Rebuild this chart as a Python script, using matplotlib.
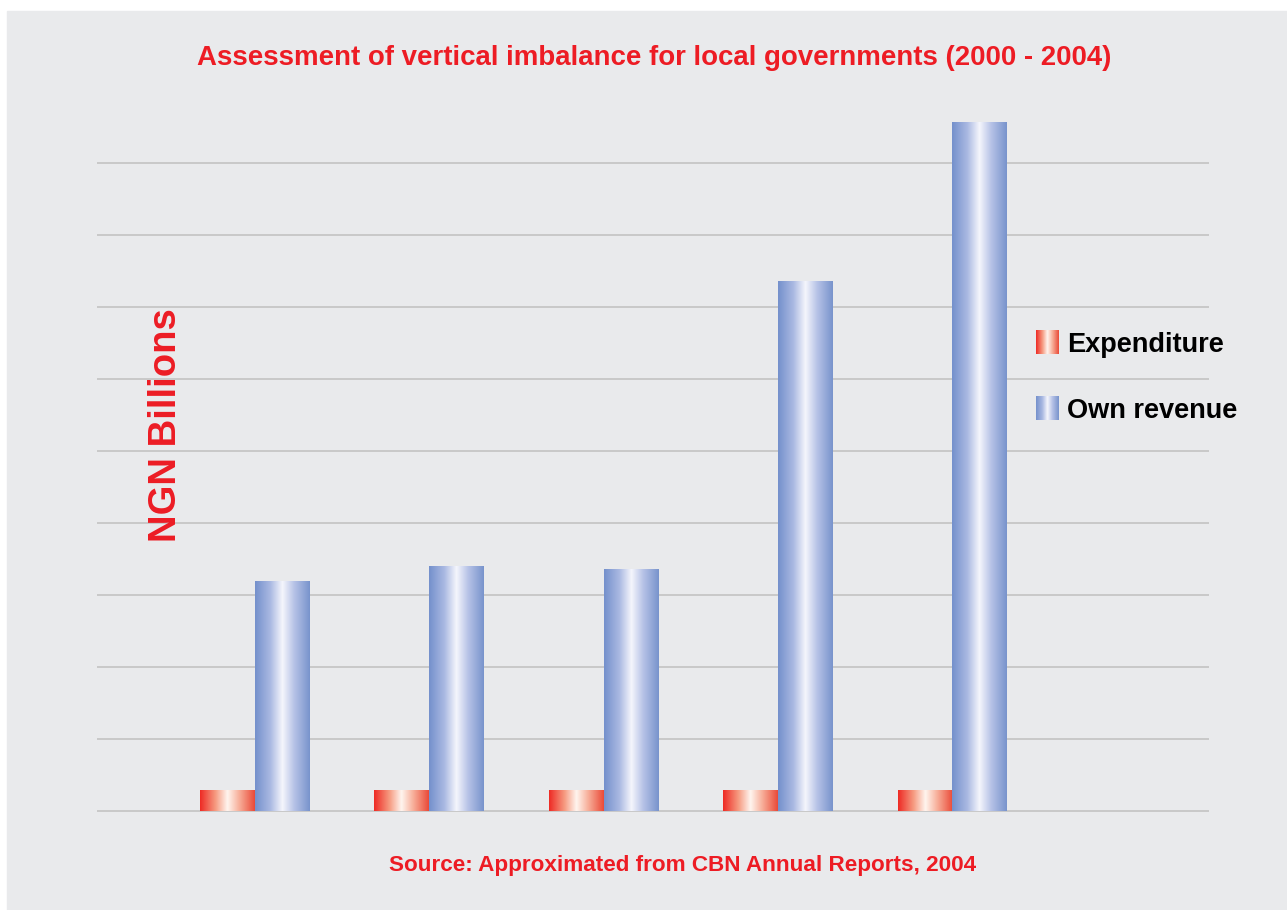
#!/usr/bin/env python3
"""
Vertical imbalance for local governments, 2000-2004
Gradient-filled grouped bars on a grey panel
"""

import numpy as np
import matplotlib.pyplot as plt
from matplotlib.colors import LinearSegmentedColormap
from matplotlib.patches import Rectangle

# Data (NGN billions)
years = ['2000', '2001', '2002', '2003', '2004']
expenditure = [0.28, 0.28, 0.28, 0.28, 0.28]
own_revenue = [3.19, 3.39, 3.36, 7.35, 9.56]
series_names = ['Expenditure', 'Own revenue']

RED = '#ed1c24'
PANEL = '#e9eaec'
GRID = '#c6c6c6'

red_cmap = LinearSegmentedColormap.from_list('redbar', [
    (0.0, '#ee2a24'), (0.28, '#f69a80'), (0.5, '#fff5ef'),
    (0.72, '#f7ad98'), (1.0, '#ea4a38')])
blue_cmap = LinearSegmentedColormap.from_list('bluebar', [
    (0.0, '#7490cc'), (0.28, '#aab9e2'), (0.5, '#f5f6fc'),
    (0.72, '#b5c1e6'), (1.0, '#7893cc')])
grad = np.linspace(0, 1, 256).reshape(1, -1)


def fill_gradient(ax, bars, cmap):
    """Paint each bar patch with a horizontal gradient"""
    for b in bars:
        x0, y0 = b.get_x(), b.get_y()
        ax.imshow(grad, cmap=cmap, aspect='auto', interpolation='bilinear',
                  extent=[x0, x0 + b.get_width(), y0, y0 + b.get_height()],
                  zorder=3)


fig = plt.figure(figsize=(12.87, 9.1), dpi=100, facecolor='white')
fig.patches.append(Rectangle((7 / 1287, 0), 1, (910 - 11) / 910,
                             transform=fig.transFigure, color=PANEL, zorder=-10))

ax = fig.add_axes([97 / 1287, 97 / 910, 1112 / 1287, 722 / 910])
ax.set_facecolor('none')

x = np.arange(len(years))
w = 0.31
b1 = ax.bar(x - 0.157, expenditure, w, color='none', zorder=3)
b2 = ax.bar(x + 0.157, own_revenue, w, color='none', zorder=3)
fill_gradient(ax, b1, red_cmap)
fill_gradient(ax, b2, blue_cmap)

ax.set_xlim(-0.903, 5.473)
ax.set_ylim(-0.028, 10)
ax.set_yticks(range(0, 10))
ax.set_xticks([])
ax.yaxis.grid(True, color=GRID, linewidth=1.3)
ax.set_axisbelow(True)
ax.tick_params(left=False, labelleft=False)
for s in ax.spines.values():
    s.set_visible(False)

# Texts
fig.text(654 / 1287, 1 - 58 / 910,
         'Assessment of vertical imbalance for local governments (2000 - 2004)',
         ha='center', va='center', color=RED, fontsize=19.9, fontweight='bold',
         family='Liberation Sans')
fig.text(683 / 1287, 1 - 866 / 910,
         'Source: Approximated from CBN Annual Reports, 2004',
         ha='center', va='center', color=RED, fontsize=16.2, fontweight='bold',
         family='Liberation Sans')
fig.text(166 / 1287, 1 - 425 / 910, 'NGN Billions', rotation=90,
         ha='center', va='center', color=RED, fontsize=27.5, fontweight='bold',
         family='Liberation Sans')

# Legend with gradient swatches
legend_rows = [(series_names[0], red_cmap, 330), (series_names[1], blue_cmap, 396)]
for name, cmap, top in legend_rows:
    sw = fig.add_axes([1036 / 1287, 1 - (top + 24) / 910, 23 / 1287, 24 / 910])
    sw.imshow(grad, cmap=cmap, aspect='auto', interpolation='bilinear')
    sw.axis('off')
    fig.text(1067 / 1287, 1 - (top + 15) / 910, name, ha='left', va='center',
             color='black', fontsize=19.5, fontweight='bold',
             family='Liberation Sans')

fig.savefig('out.png', dpi=100, facecolor='white')
